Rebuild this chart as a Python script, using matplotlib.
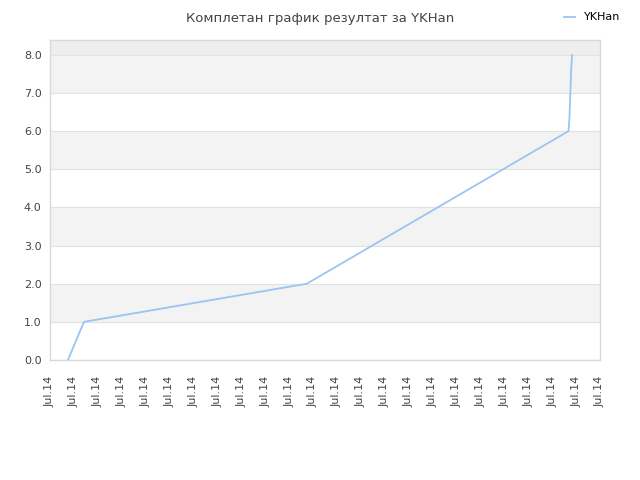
import matplotlib
matplotlib.use("Agg")
import matplotlib.pyplot as plt

# data (x in tick-index units along the time axis)
x_vals = [0.75, 1.42, 10.74, 21.68, 21.72, 21.76, 21.80, 21.84]
y_vals = [0.0, 1.0, 2.0, 6.0, 6.3, 7.0, 7.7, 8.0]
tick_labels = ["Jul.14"] * 24
y_ticks = [0, 1, 2, 3, 4, 5, 6, 7, 8]
series_name = "YKHan"
title = "Комплетан график резултат за YKHan"

fig = plt.figure(figsize=(6.4, 4.8), dpi=100)
ax = fig.add_axes([50/640, 120/480, 550/640, 320/480])

ymax = 8.39
ax.set_xlim(0, 23)
ax.set_ylim(0, ymax)

# alternating bands
for i in range(0, 8):
    if i % 2 == 1:
        ax.axhspan(i, i + 1, color="#f3f3f3", zorder=0, lw=0)
ax.axhspan(8, ymax, color="#eeeeee", zorder=0, lw=0)
for yv in y_ticks:
    ax.axhline(yv, color="#e2e2e2", lw=0.8, zorder=1)

ax.plot(x_vals, y_vals, color="#99c5f2", lw=1.3, zorder=3, label=series_name)

ax.set_yticks(y_ticks)
ax.set_yticklabels([f"{v:.1f}" for v in y_ticks], fontsize=8, color="#444444")
ax.set_xticks(range(24))
ax.set_xticklabels(tick_labels, rotation=90, fontsize=8, color="#444444")
ax.tick_params(length=0, pad=6)
ax.tick_params(axis="x", pad=11)
for s in ax.spines.values():
    s.set_color("#d9d9d9")
    s.set_linewidth(1)

fig.text(0.5, 0.975, title, ha="center", va="top", fontsize=9.5, color="#444444")
leg = fig.legend(loc="upper right", bbox_to_anchor=(0.985, 0.995), frameon=False,
                 fontsize=8, handlelength=1.0, handletextpad=0.8)

fig.savefig("out.png", dpi=100)
